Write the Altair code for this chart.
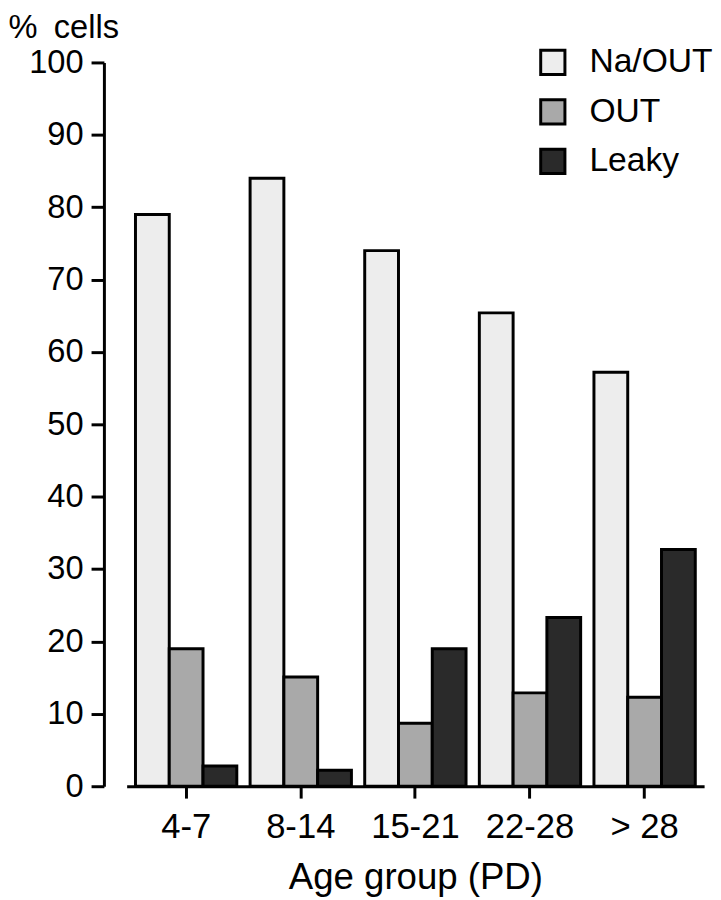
import altair as alt
import pandas as pd

groups = ["4-7", "8-14", "15-21", "22-28", "> 28"]
series = ["Na/OUT", "OUT", "Leaky"]
na_out = [79.0, 84.0, 74.0, 65.4, 57.2]
out = [19.0, 15.1, 8.7, 12.9, 12.3]
leaky = [2.8, 2.2, 19.0, 23.3, 32.7]

rows = []
for i, g in enumerate(groups):
    for s, vals in zip(series, [na_out, out, leaky]):
        rows.append({"group": g, "series": s, "value": vals[i]})
df = pd.DataFrame(rows)

FONT = "Liberation Sans"

bars = alt.Chart(df).mark_bar(stroke="black", strokeWidth=3, strokeJoin="miter").encode(
    x=alt.X("group:N", sort=groups,
            scale=alt.Scale(paddingInner=0.116, paddingOuter=0.077),
            axis=alt.Axis(title="Age group (PD)", labelAngle=0, labelFontSize=35,
                          titleFontSize=37, titleFontWeight="normal",
                          labelPadding=12, titlePadding=15, tickSize=12,
                          tickWidth=3, domainWidth=3, labelColor="black",
                          titleColor="black", tickColor="black", domainColor="black")),
    xOffset=alt.XOffset("series:N", sort=series),
    y=alt.Y("value:Q", scale=alt.Scale(domain=[0, 100], nice=False),
            axis=alt.Axis(title="%\u2002cells", values=list(range(0, 101, 10)),
                          offset=23, grid=False, labelFontSize=33, tickSize=13,
                          tickWidth=3, domainWidth=3, labelPadding=8,
                          titleAngle=0, titleAlign="left", titleBaseline="top",
                          titleX=-97, titleY=-51, titleFontSize=33,
                          titleFontWeight="normal", labelColor="black",
                          titleColor="black", tickColor="black", domainColor="black")),
    fill=alt.Fill("series:N", sort=series,
                  scale=alt.Scale(domain=series, range=["#ededed", "#a9a9a9", "#2a2a2a"]),
                  legend=alt.Legend(title=None, orient="none", legendX=414, legendY=-17,
                                    symbolType="square", symbolSize=600,
                                    symbolStrokeColor="black", symbolStrokeWidth=3,
                                    labelFontSize=34, labelOffset=20, rowPadding=12,
                                    labelColor="black", padding=0)),
)

chart = bars.properties(
    width=584, height=732,
    autosize=alt.AutoSizeParams(type="none"),
    padding={"left": 120, "top": 50, "right": 9, "bottom": 110},
).configure(font=FONT, background="white").configure_view(stroke=None)

chart.save("out.html", embed_options={"renderer": "svg", "actions": False})
